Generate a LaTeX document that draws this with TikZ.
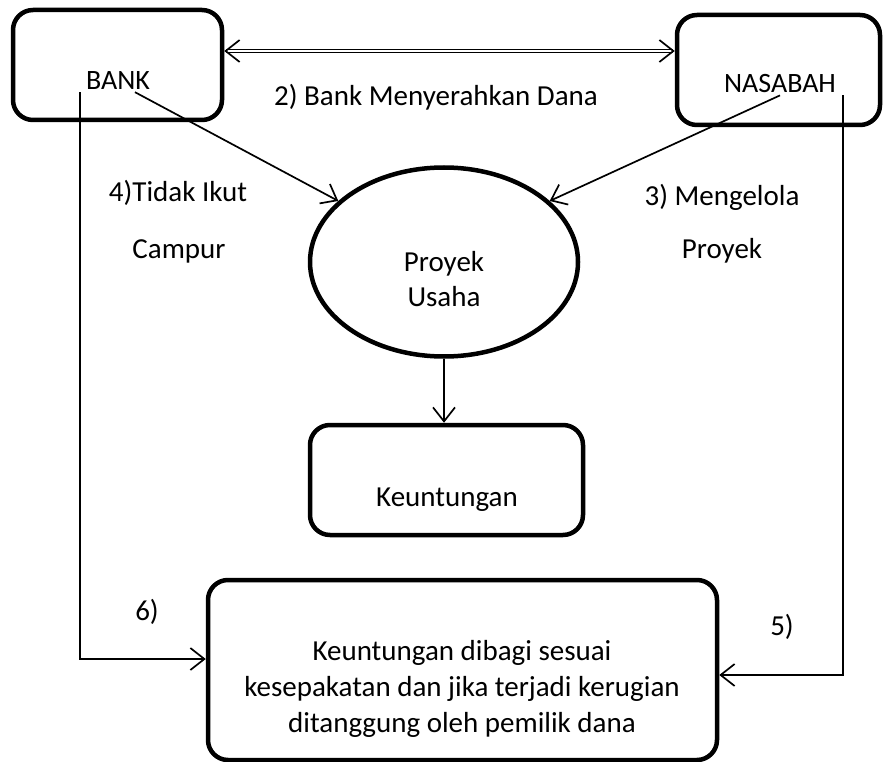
\documentclass[tikz,border=0pt]{standalone}
\usepackage{fontspec}
\setmainfont{Carlito}
\usetikzlibrary{arrows.meta,shapes.geometric}

\tikzstyle{box} = [draw=black, line width=4.5pt, rounded corners=20pt,%
                   inner sep=0pt, anchor=center]
\tikzstyle{proc} = [draw=black, line width=4.5pt, ellipse, inner sep=0pt]
\tikzstyle{txt} = [inner sep=2pt, align=center, font=\fontsize{29}{36}\selectfont]
\tikzstyle{conn} = [line width=1.7pt, -{Straight Barb[length=14pt,width=22pt]}]

\begin{document}
\begin{tikzpicture}[x=1pt, y=-1pt]
	\useasboundingbox (0,0) rectangle (883,762);

	\node (bank) [box, minimum width=209pt, minimum height=110pt] at (117.5,65) {};
	\node (bankLbl) [txt, font=\fontsize{28}{36}\selectfont] at (118,81) {BANK};
	\node (nasabah) [box, minimum width=203pt, minimum height=110pt] at (778.5,70) {};
	\node (nasabahLbl) [txt, font=\fontsize{28}{36}\selectfont] at (780,84) {NASABAH};

	\node (proyek) [proc, minimum width=268pt, minimum height=189pt] at (444,262) {};
	\node (proyekLbl) [txt, font=\fontsize{29}{35}\selectfont] at (444,279) {Proyek\\Usaha};

	\node (untung) [box, minimum width=273pt, minimum height=110pt] at (446.5,480) {};
	\node (untungLbl) [txt] at (447,500) {Keuntungan};

	\node (hasil) [box, minimum width=509pt, minimum height=180pt] at (462.5,670) {};
	\node (hasilLbl) [txt] at (462,689) {Keuntungan dibagi sesuai\\kesepakatan dan jika terjadi kerugian\\ditanggung oleh pemilik dana};

	% labels
	\node (danaLbl) [txt] at (436,97) {2) Bank Menyerahkan Dana};
	\node (tidak1) [txt] at (178,193) {4)Tidak Ikut};
	\node (tidak2) [txt] at (179,251) {Campur};
	\node (kelola1) [txt] at (722,197) {3) Mengelola};
	\node (kelola2) [txt] at (722,251) {Proyek};
	\node (enam) [txt] at (147,612) {6)};
	\node (lima) [txt] at (782,627) {5)};

	% connectors
	\draw[double, double distance=1.4pt, line width=1.3pt,%
	      {Straight Barb[line width=1.7pt,length=14pt,width=22pt]}-{Straight Barb[line width=1.7pt,length=14pt,width=22pt]}]
	      ([yshift=14pt]bank.east) -- ([yshift=14pt]bank.east -| nasabah.west);
	\draw[conn] ([xshift=17pt]bankLbl.south) -- (proyek.150);
	\draw[conn] (nasabahLbl.south) -- (proyek.30);
	\draw[conn] (proyek.south) -- (proyek.south |- untung.north);
	\draw[conn] ([xshift=-4pt]bankLbl.south west) |- ([yshift=11pt]hasil.west);
	\draw[conn] ([xshift=5pt]nasabahLbl.south east) |- ([yshift=-5pt]hasil.east);
\end{tikzpicture}
\end{document}
